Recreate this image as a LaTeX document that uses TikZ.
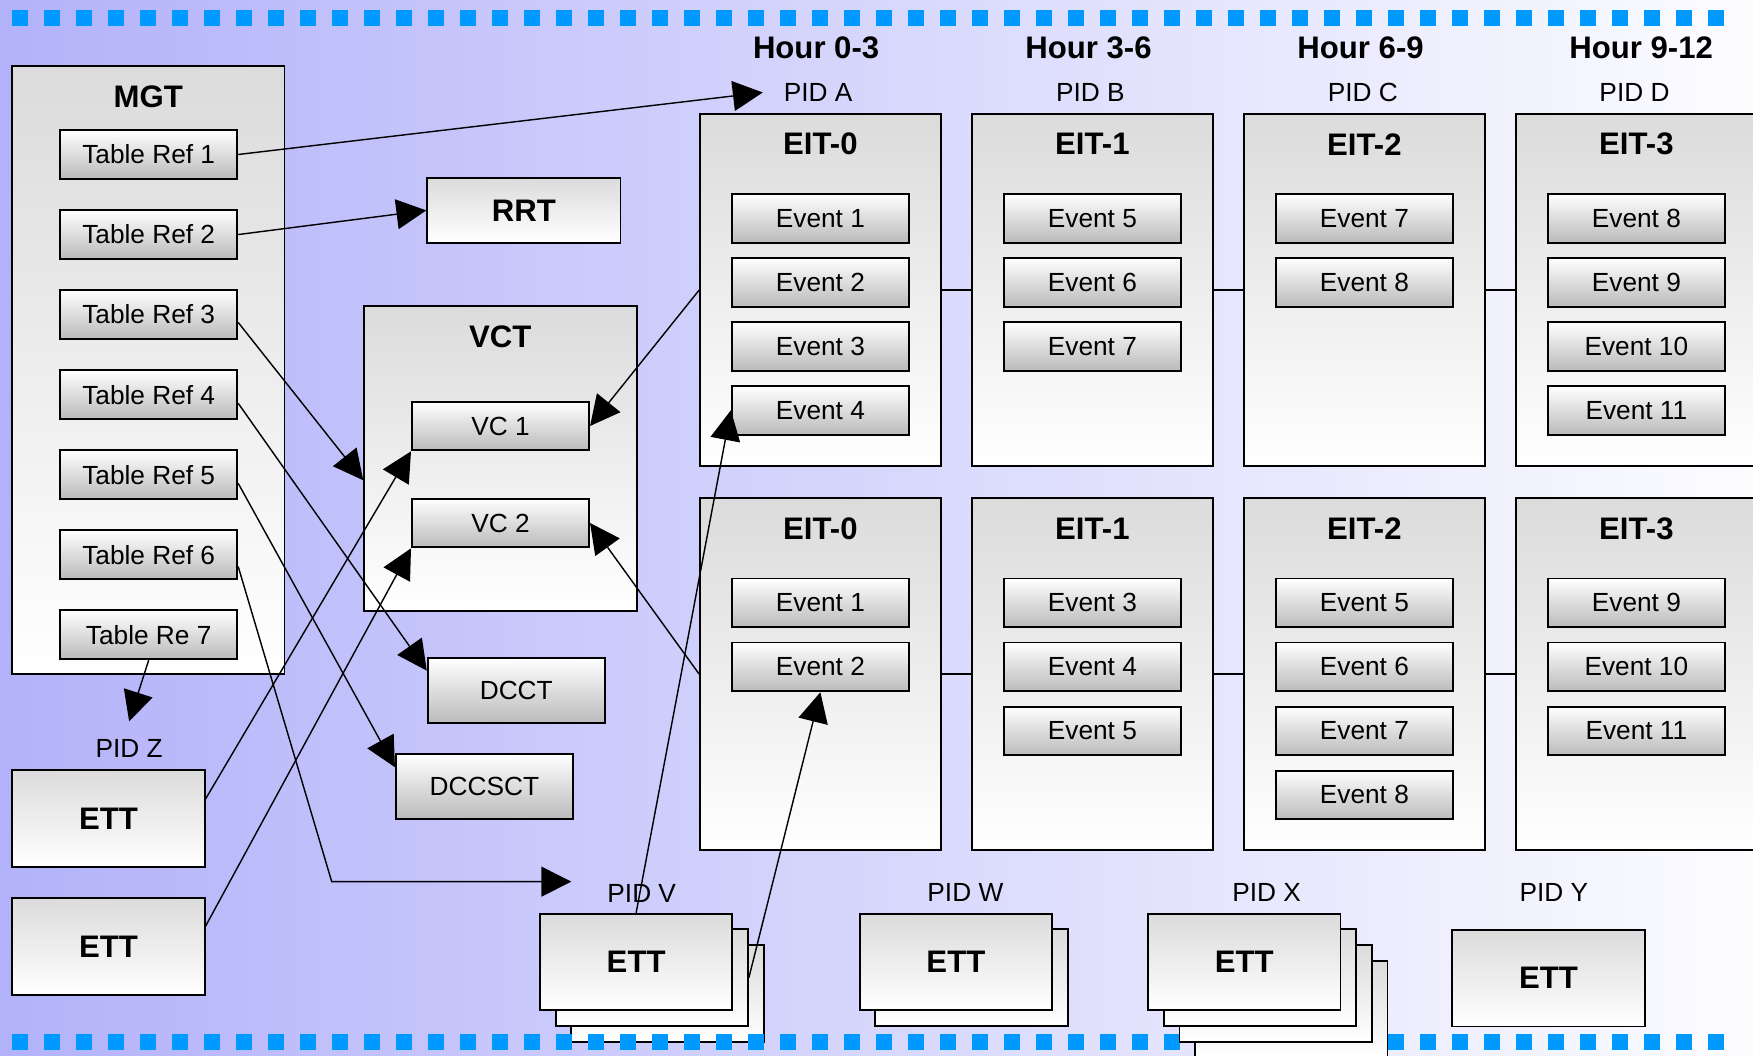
\documentclass[tikz,border=0pt]{standalone}
\usepackage{fontspec}
\setmainfont{Liberation Sans}
\usetikzlibrary{arrows.meta}
\definecolor{bgleft}{RGB}{178,178,250}
\definecolor{bgright}{RGB}{252,252,255}
\definecolor{dotblue}{RGB}{0,153,255}
\tikzset{
  smallbox/.style={draw=black, line width=1.2pt, top color=white, bottom color=black!27, inner sep=0pt, minimum width=3.96cm, minimum height=1.09cm, font=\fontsize{16.7}{20}\selectfont},
  bigbox/.style={draw=black, line width=1.2pt, top color=black!14, bottom color=white, inner sep=0pt},
  ettbox/.style={bigbox, minimum width=4.3cm, minimum height=2.16cm, font=\fontsize{19.8}{23}\selectfont\bfseries},
  eitbox/.style={bigbox, minimum width=5.375cm, minimum height=7.865cm},
  heading/.style={font=\fontsize{19.8}{23}\selectfont\bfseries, inner sep=0pt},
  pidlabel/.style={font=\fontsize{16.7}{20}\selectfont, inner sep=0pt},
  arr/.style={line width=0.9pt, -{Triangle[length=19pt,width=19pt]}},
  tie/.style={line width=1pt}
}
\begin{document}
\begin{tikzpicture}[x=0.025cm,y=-0.025cm]
\useasboundingbox (0,0) rectangle (1568,944);
\shade[left color=bgleft, right color=bgright] (0,0) rectangle (1568,944);
\foreach \i in {0,...,53} \fill[dotblue] ({10.73+28.62*\i},8.9) rectangle ++(14.31,14.31);

\node[bigbox, minimum width=6.09cm, minimum height=13.6cm] (mgt) at (132.6,330.9) {};
\node[heading] at (132.6,86.5) {MGT};
\foreach \t [count=\j] in {Table Ref 1,Table Ref 2,Table Ref 3,Table Ref 4,Table Ref 5,Table Ref 6,Table Re 7}
  \node[smallbox] (tr\j) at (133,{66.6+71.6*\j}) {\t};

\node[bigbox, minimum width=4.32cm, minimum height=1.44cm, font=\fontsize{19.8}{23}\selectfont\bfseries] (rrt) at (468.6,188.2) {RRT};
\node[bigbox, minimum width=6.09cm, minimum height=6.81cm] (vct) at (447.6,409.9) {};
\node[heading] at (447.4,300.8) {VCT};
\node[smallbox] (vc1) at (447.7,381.05) {VC 1};
\node[smallbox] (vc2) at (447.7,467.8) {VC 2};
\node[smallbox, minimum height=1.455cm] (dcct) at (461.8,617.9) {DCCT};
\node[smallbox, minimum height=1.455cm] (dccsct) at (433.3,703.5) {DCCSCT};

\node[pidlabel] (pidZ) at (115.5,669.3) {PID Z};
\node[ettbox] (ett1) at (97,732) {ETT};
\node[ettbox] (ett2) at (97,846.5) {ETT};

\foreach \x/\h in {730/0-3,973.6/3-6,1217/6-9,1468/9-12}
  \node[heading] at (\x,43) {Hour \h};
\foreach \x/\p in {731.8/A,975.3/B,1219/C,1462/D}
  \node[pidlabel] (pid\p) at (\x,82.7) {PID \p};
\foreach \x [count=\k from 0] in {733.8,977.1,1220.4,1463.7} {
  \node[eitbox] (a\k) at (\x,259.4) {};
  \node[eitbox] (b\k) at (\x,603.05) {};
  \node[heading] at (\x,129) {EIT-\k};
  \node[heading] at (\x,472.8) {EIT-\k};
}
\foreach \k/\n in {0/1,1/2,2/3} {
  \draw[tie] (a\k.east) -- (a\n.west);
  \draw[tie] (b\k.east) -- (b\n.west);
}
\foreach \t [count=\j] in {1,2,3,4} \node[smallbox] (a0-\j) at (733.8,{138+57.25*\j}) {Event \t};
\foreach \t [count=\j] in {5,6,7} \node[smallbox] (a1-\j) at (977.1,{138+57.25*\j}) {Event \t};
\foreach \t [count=\j] in {7,8} \node[smallbox] (a2-\j) at (1220.4,{138+57.25*\j}) {Event \t};
\foreach \t [count=\j] in {8,9,10,11} \node[smallbox] (a3-\j) at (1463.7,{138+57.25*\j}) {Event \t};
\foreach \t [count=\j] in {1,2} \node[smallbox] (b0-\j) at (733.8,{482.05+57.25*\j}) {Event \t};
\foreach \t [count=\j] in {3,4,5} \node[smallbox] (b1-\j) at (977.1,{482.05+57.25*\j}) {Event \t};
\foreach \t [count=\j] in {5,6,7,8} \node[smallbox] (b2-\j) at (1220.4,{482.05+57.25*\j}) {Event \t};
\foreach \t [count=\j] in {9,10,11} \node[smallbox] (b3-\j) at (1463.7,{482.05+57.25*\j}) {Event \t};

\node[pidlabel] (pidV) at (574,799) {PID V};
\node[ettbox] (ettV3) at (597,888.5) {};
\node[ettbox] (ettV2) at (583,874.5) {};
\node[ettbox] (ettV) at (569,860.5) {ETT};
\foreach \i in {0,...,53} \fill[dotblue] ({10.73+28.62*\i},924.9) rectangle ++(14.31,14.31);
\node[pidlabel] (pidW) at (863.5,798.3) {PID W};
\node[ettbox] (ettW2) at (869,874.5) {};
\node[ettbox] (ettW) at (855,860.5) {ETT};
\node[pidlabel] (pidX) at (1132.9,798.3) {PID X};
\node[ettbox] (ettX4) at (1155,902.5) {};
\node[ettbox] (ettX3) at (1141,888.5) {};
\node[ettbox] (ettX2) at (1127,874.5) {};
\node[ettbox] (ettX) at (1113,860.5) {ETT};
\node[pidlabel] (pidY) at (1389.8,798.3) {PID Y};
\node[ettbox] (ettY) at (1385,875) {ETT};

\coordinate (bend6) at (296.7,788.6);
\coordinate (pidVin) at (511,788.6);
\draw[arr] (tr1.east) -- ([xshift=-13.2pt]pidA.west);
\draw[arr] (tr2.east) -- (rrt.west);
\draw[arr] ([yshift=-5pt]tr3.east) -- ([yshift=-14pt]vct.west);
\draw[arr] ([yshift=-5.5pt]tr4.east) -- ([yshift=-8.5pt]dcct.north west);
\draw[arr] ([yshift=-5.5pt]tr5.east) -- ([yshift=-9pt]dccsct.north west);
\draw[arr] ([yshift=-7.5pt]tr6.east) -- (bend6) -- (pidVin);
\draw[arr] (tr7.south) -- ([yshift=11.2pt]pidZ.north);
\draw[arr] (a0.west) -- (vc1.east);
\draw[arr] (b0.west) -- (vc2.east);
\draw[arr] ([yshift=-19pt]ett1.north east) -- (vc1.south west);
\draw[arr] ([yshift=-18.5pt]ett2.north east) -- (vc2.south west);
\draw[arr] (ettV.north) -- (a0-4.west);
\draw[arr] (ettV2.east) -- (b0-2.south);
\end{tikzpicture}
\end{document}
